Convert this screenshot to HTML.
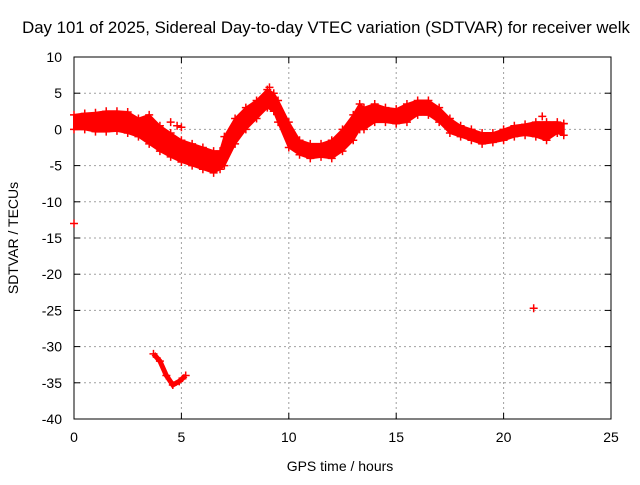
<!DOCTYPE html>
<html><head><meta charset="utf-8"><style>
body{margin:0;background:#fff;}
svg text{font-family:"Liberation Sans",sans-serif;font-size:14px;fill:#000;}
</style></head><body>
<svg id="chart" width="640" height="480" xmlns="http://www.w3.org/2000/svg">
<rect width="640" height="480" fill="#fff"/>
<text x="326" y="33" text-anchor="middle" style="font-size:16.8px">Day 101 of 2025, Sidereal Day-to-day VTEC variation (SDTVAR) for receiver welk</text>
<g id="grid"></g>
<g id="axes"></g>
<g id="marks"></g>
<text x="340" y="471" text-anchor="middle">GPS time / hours</text>
<text transform="translate(18,238) rotate(-90)" text-anchor="middle">SDTVAR / TECUs</text>
</svg>
<script>
const xTicks=[0,5,10,15,20,25];
const yTicks=[10,5,0,-5,-10,-15,-20,-25,-30,-35,-40];
const bandT=[0,0.5,1,1.5,2,2.5,3,3.5,4,4.5,5,5.5,6,6.5,6.8,7,7.5,8,8.5,9,9.3,9.5,10,10.5,11,11.5,12,12.5,13,13.3,13.5,14,14.5,15,15.5,16,16.5,17,17.5,18,18.5,19,19.5,20,20.5,21,21.5,22,22.5,22.8];
const bandHi=[2,2.2,2.3,2.5,2.5,2.4,1.5,2,0.5,-0.5,-1.5,-2,-2.5,-3,-3,-1,1.5,3,4,5.5,5,4,1,-1.5,-2,-2,-1.5,0,2,3.5,3,3.5,3,2.8,3.5,4,4,3,1.5,0.5,0,-0.5,-0.5,0,0.5,0.7,1,1,1,0.8];
const bandLo=[0,0,-0.3,-0.3,-0.2,-0.5,-1,-2,-3,-3.8,-4.5,-5,-5.5,-6,-5.5,-5,-2,0,1.5,3,2.5,1,-2.5,-3.5,-4,-3.8,-4,-3,-1.5,0,0,1,1,0.8,1,2,2,1,-0.5,-1,-1.5,-2,-1.8,-1.5,-1,-0.8,-1,-1.5,-0.5,-0.8];
const lowT=[3.7,4,4.3,4.6,4.9,5.2];
const lowV=[-31,-32,-34,-35.3,-34.8,-34];
const outT=[0,21.4,4.5,4.8,5.0,9.1,21.8,22.3,22.8];
const outV=[-13,-24.7,1,0.5,0.3,5.8,1.8,0.5,0.8];
const X0=74,X1=611,Y0=57,Y1=419;
const sx=t=>X0+(t-0)/25*(X1-X0);
const sy=v=>Y0+(10-v)/50*(Y1-Y0);
const NS='http://www.w3.org/2000/svg';
function mk(tag,attrs,parent){const e=document.createElementNS(NS,tag);for(const k in attrs)e.setAttribute(k,attrs[k]);parent.appendChild(e);return e;}
const grid=document.getElementById('grid'),axes=document.getElementById('axes'),marks=document.getElementById('marks');
xTicks.forEach(t=>{
 if(t>0&&t<25){const l=mk('line',{x1:sx(t),x2:sx(t),y1:Y0,y2:Y1,stroke:'#a0a0a0','stroke-dasharray':'2,3'},grid);
 
 }
 mk('line',{x1:sx(t),x2:sx(t),y1:Y1,y2:Y1-6,stroke:'#000'},axes);
 mk('line',{x1:sx(t),x2:sx(t),y1:Y0,y2:Y0+6,stroke:'#000'},axes);
 const tx=mk('text',{x:sx(t),y:Y1+23,'text-anchor':'middle'},axes);tx.textContent=t;
 
 
});
yTicks.forEach(v=>{
 if(v<10&&v>-40){const l=mk('line',{x1:X0,x2:X1,y1:sy(v),y2:sy(v),stroke:'#a0a0a0','stroke-dasharray':'2,3'},grid);
 
 }
 mk('line',{x1:X0,x2:X0+6,y1:sy(v),y2:sy(v),stroke:'#000'},axes);
 mk('line',{x1:X1,x2:X1-6,y1:sy(v),y2:sy(v),stroke:'#000'},axes);
 const tx=mk('text',{x:X0-12,y:sy(v)+5,'text-anchor':'end'},axes);tx.textContent=v;
 
 
});
mk('rect',{x:X0,y:Y0,width:X1-X0,height:Y1-Y0,fill:'none',stroke:'#000'},axes);
let pts=bandT.map((t,i)=>sx(t)+','+sy(bandHi[i]));
pts=pts.concat(bandT.map((t,i)=>sx(t)+','+sy(bandLo[i])).reverse());
const band=mk('polygon',{points:pts.join(' '),fill:'#ff0000',stroke:'#ff0000','stroke-width':2},marks);


function plus(t,v){const x=sx(t),y=sy(v);
 const p=mk('path',{d:`M${x-4},${y}H${x+4}M${x},${y-4}V${y+4}`,stroke:'#ff0000','stroke-width':1.5},marks);
 
 }
bandT.forEach((t,i)=>{plus(t,bandHi[i]);plus(t,bandLo[i]);});
const lp=mk('polyline',{points:lowT.map((t,i)=>sx(t)+','+sy(lowV[i])).join(' '),fill:'none',stroke:'#ff0000','stroke-width':5},marks);


lowT.forEach((t,i)=>plus(t,lowV[i]));
outT.forEach((t,i)=>plus(t,outV[i]));
</script>
</body></html>
